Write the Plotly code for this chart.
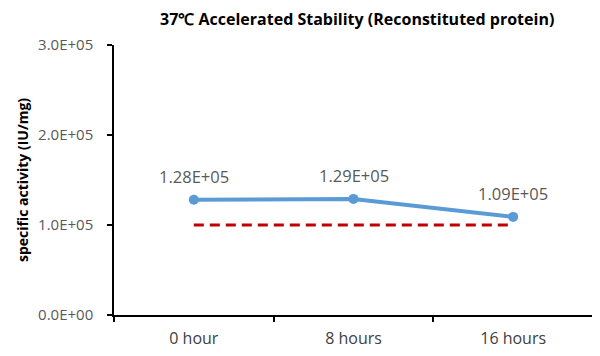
import plotly.graph_objects as go

categories = ["0 hour", "8 hours", "16 hours"]
activity = [1.28e5, 1.29e5, 1.09e5]
spec_limit = [1.0e5, 1.0e5, 1.0e5]
y_tickvals = [0, 1e5, 2e5, 3e5]
y_ticktext = ["0.0E+00", "1.0E+05", "2.0E+05", "3.0E+05"]

labels = [f"{v:.2E}" for v in activity]

FONT = "Open Sans, sans-serif"

fig = go.Figure()
fig.add_trace(go.Scatter(
    x=categories, y=spec_limit, mode="lines",
    line=dict(color="#C00000", width=3, dash="10px,6px"),
    hoverinfo="skip", showlegend=False))
fig.add_trace(go.Scatter(
    x=categories, y=activity, mode="lines+markers",
    line=dict(color="#5B9BD5", width=4),
    marker=dict(size=10, color="#5B9BD5"),
    showlegend=False))

for c, v, t in zip(categories, activity, labels):
    fig.add_annotation(x=c, y=v, text=t, showarrow=False, yshift=23,
                       font=dict(family=FONT, size=16.5, color="#595959"))

fig.update_layout(
    width=600, height=356,
    margin=dict(l=106, r=15, t=37, b=49),
    plot_bgcolor="white", paper_bgcolor="white",
    title=dict(text="<b>37℃ Accelerated Stability (Reconstituted protein)</b>",
               x=0.582, xanchor="center", y=0.983, yanchor="top",
               font=dict(family=FONT, size=16, color="black")),
    font=dict(family=FONT),
)
fig.update_xaxes(
    type="category", range=[-0.5, 2.5], tickson="boundaries",
    ticks="outside", ticklen=5, tickcolor="black", tickwidth=1.5,
    showline=True, linecolor="black", linewidth=1.5,
    showgrid=False, ticklabelstandoff=8,
    tickfont=dict(size=16, color="#404040"))
fig.update_yaxes(
    range=[0, 3e5], tickvals=y_tickvals, ticktext=y_ticktext,
    ticks="outside", ticklen=5, tickcolor="black", tickwidth=1.5,
    showline=True, linecolor="black", linewidth=1.5,
    showgrid=False, zeroline=False, ticklabelstandoff=11,
    tickfont=dict(size=15, color="#595959"),
    title=dict(text="<b>specific activity (IU/mg)</b>", standoff=6,
               font=dict(size=14, color="black")))

fig.write_html("out.html")
